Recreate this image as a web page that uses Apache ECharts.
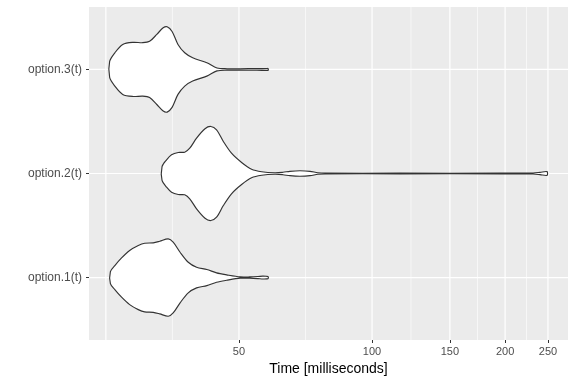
<!DOCTYPE html>
<html><head><meta charset="utf-8">
<script src="https://cdn.jsdelivr.net/npm/echarts@6/dist/echarts.min.js"></script>
<style>html,body{margin:0;padding:0;background:#fff}#c{width:576px;height:384px}</style>
</head><body><div id="c"></div>
<script>
// Categories (bottom to top)
const categories = ['option.1(t)', 'option.2(t)', 'option.3(t)'];

// Violin outlines: time (ms) and half-width (category units)
const opt1Time = [25.6, 26.2, 27.1, 28.3, 29.6, 30.6, 32.0, 33.1, 34.6, 35.5, 36.8, 38.4, 40.1, 42.3, 44.5, 46.9, 50.3, 52.9, 55.2, 56.6, 57.8, 58.2];
const opt1Half = [0.058, 0.115, 0.186, 0.26, 0.308, 0.33, 0.334, 0.349, 0.372, 0.34, 0.243, 0.147, 0.099, 0.077, 0.045, 0.026, 0.006, 0.006, 0.01, 0.014, 0.012, 0.01];

const opt2Time = [33.5, 34.3, 35.2, 36.45, 37.7, 38.7, 40.1, 41.9, 43.2, 44.5, 46.1, 48.1, 50.7, 53.4, 56.3, 60.3, 62.9, 65.2, 68.7, 72.4, 75.4, 78.3, 115.7, 194.7, 231.3, 239.9, 248.8];
const opt2Half = [0.067, 0.132, 0.18, 0.202, 0.205, 0.243, 0.34, 0.43, 0.452, 0.42, 0.308, 0.195, 0.106, 0.041, 0.017, 0.007, 0.012, 0.021, 0.026, 0.021, 0.007, 0.003, 0.003, 0.003, 0.005, 0.011, 0.018];

const opt3Time = [25.5, 26.2, 27.3, 28.8, 30.3, 31.4, 32.6, 33.7, 34.4, 35.3, 36.4, 37.7, 39.3, 42.3, 44.6, 47.0, 50.3, 54.9, 57.9, 58.2];
const opt3Half = [0.077, 0.16, 0.24, 0.26, 0.257, 0.27, 0.337, 0.40, 0.41, 0.365, 0.24, 0.16, 0.112, 0.064, 0.014, 0.007, 0.007, 0.008, 0.009, 0.009];

// Axis ticks / grid breaks (ms, log10 scale)
const xTickLabels = [50, 100, 150, 200, 250];
const gridMajor = [25, 50, 100, 150, 200, 250];
const gridMinor = [35.36, 70.71, 122.47, 173.21, 223.61];
const xLimits = [22.9, 277.5];
const yLimits = [0.4, 3.6];

const violinTimes = [opt1Time, opt2Time, opt3Time];
const violinHalf = [opt1Half, opt2Half, opt3Half];
const L = Math.log10;

const chart = echarts.init(document.getElementById('c'), null, {renderer: 'canvas'});

function vLine(width) {
  return function (params, api) {
    const a = api.coord([api.value(0), yLimits[0]]);
    const b = api.coord([api.value(0), yLimits[1]]);
    return {type: 'line', shape: {x1: a[0], y1: a[1], x2: b[0], y2: b[1]},
      style: {stroke: '#ffffff', lineWidth: width}};
  };
}

const option = {
  animation: false,
  backgroundColor: '#ffffff',
  grid: {left: 89, right: 8, top: 7, bottom: 44, show: true, backgroundColor: '#EBEBEB', borderWidth: 0},
  xAxis: {
    type: 'value', min: L(xLimits[0]), max: L(xLimits[1]),
    axisLine: {show: false},
    splitLine: {show: false},
    axisTick: {show: true, customValues: xTickLabels.map(L), length: 3, lineStyle: {color: '#333333', width: 1}},
    axisLabel: {customValues: xTickLabels.map(L), formatter: v => String(Math.round(Math.pow(10, v))),
      color: '#4D4D4D', fontSize: 11, margin: 6, fontFamily: 'Liberation Sans'},
    name: 'Time [milliseconds]', nameLocation: 'middle', nameGap: 21,
    nameTextStyle: {color: '#000000', fontSize: 14, fontFamily: 'Liberation Sans'}
  },
  yAxis: {
    type: 'value', min: yLimits[0], max: yLimits[1],
    axisLine: {show: false},
    splitLine: {show: false},
    axisTick: {show: true, customValues: [1, 2, 3], length: 3, lineStyle: {color: '#333333', width: 1}},
    axisLabel: {customValues: [1, 2, 3], formatter: v => categories[Math.round(v) - 1],
      color: '#4D4D4D', fontSize: 12, margin: 7, fontFamily: 'Liberation Sans'}
  },
  series: [
    {type: 'custom', silent: true, z: 1, data: gridMinor.map(v => [L(v), 2]), renderItem: vLine(0.6)},
    {type: 'custom', silent: true, z: 1, data: gridMajor.map(v => [L(v), 2]), renderItem: vLine(1.2)},
    {type: 'custom', silent: true, z: 1, data: [1, 2, 3].map(c => [L(50), c]),
      renderItem: function (params, api) {
        const a = api.coord([L(xLimits[0]), api.value(1)]);
        const b = api.coord([L(xLimits[1]), api.value(1)]);
        return {type: 'line', shape: {x1: a[0], y1: a[1], x2: b[0], y2: b[1]},
          style: {stroke: '#ffffff', lineWidth: 1.2}};
      }},
    {type: 'custom', silent: true, z: 3,
      data: categories.map((c, i) => [L(violinTimes[i][0]), i + 1, i]),
      renderItem: function (params, api) {
        const i = api.value(2);
        const yc = i + 1;
        const t = violinTimes[i], w = violinHalf[i];
        const up = t.map((v, k) => api.coord([L(v), yc + w[k]]));
        const lo = t.map((v, k) => api.coord([L(v), yc - w[k]])).reverse();
        return {type: 'polygon', shape: {points: up.concat(lo), smooth: 0.3},
          style: {fill: '#ffffff', stroke: '#333333', lineWidth: 1.15}};
      }}
  ]
};
chart.setOption(option);
</script></body></html>
